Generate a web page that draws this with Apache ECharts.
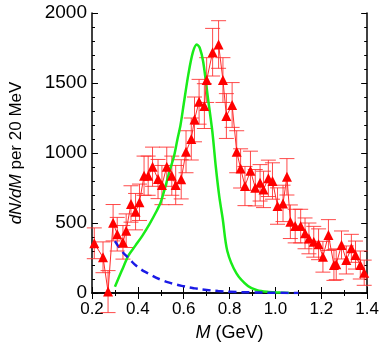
<!DOCTYPE html>
<html>
<head>
<meta charset="utf-8">
<script src="https://cdn.jsdelivr.net/npm/echarts@6/dist/echarts.min.js"></script>
<style>
  html, body { margin: 0; padding: 0; background: #fff; }
  #chart { width: 382px; height: 350px; }
</style>
</head>
<body>
<div id="chart"></div>
<script>
// measured spectrum: mass (GeV), counts per 20 MeV, error
var massPts = [0.21, 0.248, 0.27, 0.292, 0.31, 0.335, 0.349, 0.37, 0.39, 0.407,
  0.427, 0.445, 0.464, 0.488, 0.505, 0.526, 0.548, 0.565, 0.589, 0.61,
  0.633, 0.647, 0.667, 0.69, 0.70, 0.726, 0.752, 0.771, 0.786, 0.811,
  0.831, 0.848, 0.867, 0.891, 0.912, 0.933, 0.948, 0.969, 0.987, 1.009,
  1.033, 1.05, 1.065, 1.086, 1.11, 1.129, 1.146, 1.167, 1.188, 1.207,
  1.231, 1.255, 1.265, 1.288, 1.309, 1.331, 1.349, 1.37, 1.387];
var counts = [355, 255, 10, 502, 420, 362, 445, 636, 581, 648,
  838, 838, 902, 814, 771, 902, 838, 771, 812, 1009,
  1100, 1240, 1366, 1335, 1521, 1720, 1775, 1521, 1264, 1343,
  1009, 890, 764, 873, 752, 787, 740, 819, 800, 621,
  640, 830, 509, 478, 478, 426, 390, 366, 348, 259,
  414, 200, 205, 343, 236, 319, 271, 200, 145];
var errs = [110, 110, 150, 130, 120, 120, 120, 130, 130, 130,
  140, 140, 140, 140, 140, 140, 140, 140, 140, 150,
  150, 160, 160, 160, 160, 170, 170, 160, 160, 160,
  150, 140, 140, 140, 130, 130, 130, 130, 130, 130,
  130, 130, 120, 120, 120, 110, 110, 110, 110, 110,
  110, 110, 110, 100, 100, 100, 100, 100, 90];

// model curves
var greenX = [0.30, 0.33, 0.36, 0.39, 0.42, 0.45, 0.48, 0.50, 0.52, 0.54, 0.557, 0.572, 0.586, 0.60,
  0.62, 0.64, 0.657, 0.67, 0.685, 0.705, 0.725, 0.74, 0.755, 0.77, 0.79, 0.83, 0.88, 0.92, 0.97, 1.02, 1.06];
var greenY = [45, 160, 270, 340, 410, 490, 580, 650, 760, 880, 973, 1093, 1200, 1350,
  1560, 1720, 1775, 1750, 1650, 1400, 1150, 900, 690, 530, 300, 140, 50, 20, 8, 3, 0];
var blueX = [0.30, 0.33, 0.36, 0.40, 0.45, 0.50, 0.55, 0.60, 0.65, 0.70, 0.75, 0.80, 0.90, 1.00, 1.10];
var blueY = [370, 300, 248, 185, 135, 95, 68, 48, 33, 22, 14, 9, 4, 2, 0];

var xTicks = [0.2, 0.4, 0.6, 0.8, 1.0, 1.2, 1.4];

function zip(a, b) {
    return a.map(function (v, i) { return [v, b[i]]; });
}

var chart = echarts.init(document.getElementById('chart'));

var font = 'Liberation Sans, Arial, sans-serif';
var axisLine = {show: true, lineStyle: {color: '#000', width: 1.5}};

chart.setOption({
    animation: false,
    grid: {left: 86, right: 14, top: 13, bottom: 57},
    xAxis: [{
        type: 'value', min: 0.2, max: 1.4, interval: 0.2,
        name: '{i|M} (GeV)', nameLocation: 'middle', nameGap: 31,
        nameTextStyle: {fontSize: 18, color: '#000', fontFamily: font,
            rich: {i: {fontSize: 18, fontStyle: 'italic', fontFamily: font}}},
        axisLine: axisLine,
        axisTick: {inside: true, length: 6, lineStyle: {color: '#000'}},
        minorTick: {show: true, splitNumber: 2, length: 3, lineStyle: {color: '#000'}},
        splitLine: {show: false},
        axisLabel: {fontSize: 17, color: '#000', fontFamily: font, margin: 8,
            formatter: function (v) {
                var t = xTicks.find(function (k) { return Math.abs(k - v) < 1e-6; });
                return t === undefined ? '' : t.toFixed(1);
            }}
    }, {
        type: 'value', min: 0.2, max: 1.4, interval: 0.2, position: 'top',
        axisLine: axisLine,
        axisTick: {inside: true, length: 6, lineStyle: {color: '#000'}},
        minorTick: {show: true, splitNumber: 2, length: 3, lineStyle: {color: '#000'}},
        splitLine: {show: false}, axisLabel: {show: false}
    }],
    yAxis: [{
        type: 'value', min: 0, max: 2000, interval: 500,
        name: '{i|dN/dM} per 20 MeV', nameLocation: 'middle', nameGap: 67,
        nameTextStyle: {fontSize: 17, color: '#000', fontFamily: font,
            rich: {i: {fontSize: 17, fontStyle: 'italic', fontFamily: font}}},
        axisLine: axisLine,
        axisTick: {inside: true, length: 6, lineStyle: {color: '#000'}},
        minorTick: {show: true, splitNumber: 5, length: 3, lineStyle: {color: '#000'}},
        splitLine: {show: false},
        axisLabel: {fontSize: 19, color: '#000', fontFamily: font, margin: 5,
            formatter: function (v) { return String(v); }}
    }, {
        type: 'value', min: 0, max: 2000, interval: 500, position: 'right',
        axisLine: axisLine,
        axisTick: {inside: true, length: 6, lineStyle: {color: '#000'}},
        minorTick: {show: true, splitNumber: 5, length: 3, lineStyle: {color: '#000'}},
        splitLine: {show: false}, axisLabel: {show: false}
    }],
    series: [
        {
            // error bars
            type: 'custom',
            clip: false,
            data: massPts.map(function (m, i) { return [m, counts[i], errs[i]]; }),
            renderItem: function (params, api) {
                var x = api.value(0), y = api.value(1), e = api.value(2);
                var hi = api.coord([x, y + e]);
                var lo = api.coord([x, y - e]);
                var w = 7.5;
                var style = {stroke: '#ff2a2a', lineWidth: 1, opacity: 0.85};
                return {
                    type: 'group',
                    children: [
                        {type: 'line', shape: {x1: hi[0], y1: hi[1], x2: lo[0], y2: lo[1]}, style: style},
                        {type: 'line', shape: {x1: hi[0] - w, y1: hi[1], x2: hi[0] + w, y2: hi[1]}, style: style},
                        {type: 'line', shape: {x1: lo[0] - w, y1: lo[1], x2: lo[0] + w, y2: lo[1]}, style: style}
                    ]
                };
            },
            z: 2
        },
        {
            type: 'line',
            data: zip(greenX, greenY),
            smooth: 0.3,
            showSymbol: false,
            lineStyle: {color: '#19ec19', width: 2.5},
            z: 3
        },
        {
            type: 'line',
            data: zip(blueX, blueY),
            smooth: true,
            showSymbol: false,
            lineStyle: {color: '#1a1ae6', width: 2.5, type: [8, 5]},
            z: 3
        },
        {
            type: 'line',
            data: zip(massPts, counts),
            symbol: 'triangle',
            symbolSize: 10,
            itemStyle: {color: '#ff0000'},
            lineStyle: {color: '#ff2a2a', width: 1},
            z: 4
        }
    ]
});
</script>
</body>
</html>
